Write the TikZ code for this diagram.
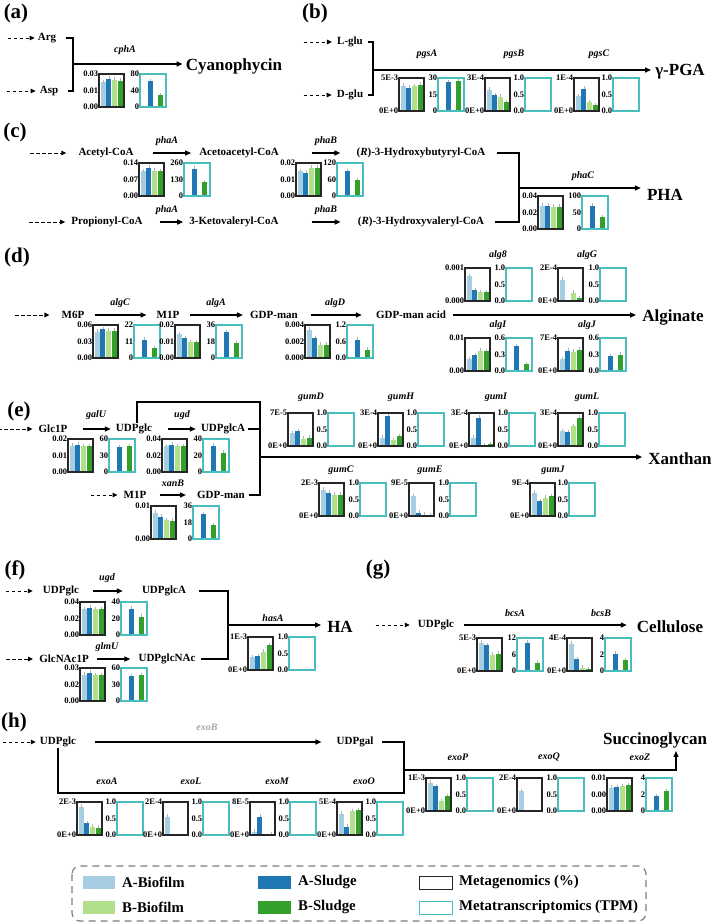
\documentclass[tikz,border=0pt]{standalone}
\usepackage{fontspec}
\setmainfont{Liberation Serif}
\usepackage{tikz}
\usetikzlibrary{arrows.meta}
\definecolor{abio}{RGB}{166,206,227}
\definecolor{aslu}{RGB}{31,120,180}
\definecolor{bbio}{RGB}{178,223,138}
\definecolor{bslu}{RGB}{51,160,44}
\definecolor{mtc}{RGB}{72,190,190}
\newcommand{\mgbox}[9]{%
  \fill[abio] (#1+1.5,#2+33) rectangle ++(5,-33*#6);
  \fill[aslu] (#1+7.3,#2+33) rectangle ++(5,-33*#7);
  \fill[bbio] (#1+13.1,#2+33) rectangle ++(5,-33*#8);
  \fill[bslu] (#1+18.9,#2+33) rectangle ++(5,-33*#9);
  \foreach \o/\h in {4/#6,9.8/#7,15.6/#8,21.4/#9}{\ifdim\h pt>0pt \draw[err] (#1+\o,#2+33-33*\h) -- ++(0,-2.5);\fi}
  \draw[mgframe] (#1,#2) rectangle ++(25,33);
  \node[ax] (m#1x#2t) at (#1,#2) {#3};
  \node[ax] (m#1x#2m) at (#1,#2+16.5) {#4};
  \node[ax] (m#1x#2b) at (#1,#2+33) {#5};
}
\newcommand{\mtbox}[7]{%
  \fill[aslu] (#1+7.5,#2+33) rectangle ++(5,-33*#6);
  \fill[bslu] (#1+17.5,#2+33) rectangle ++(5,-33*#7);
  \foreach \o/\h in {10/#6,20/#7}{\ifdim\h pt>0pt \draw[err] (#1+\o,#2+33-33*\h) -- ++(0,-2.5);\fi}
  \draw[mtframe] (#1,#2) rectangle ++(26,33);
  \node[ax] (c#1x#2t) at (#1,#2) {#3};
  \node[ax] (c#1x#2m) at (#1,#2+16.5) {#4};
  \node[ax] (c#1x#2b) at (#1,#2+33) {#5};
}
\begin{document}
\begin{tikzpicture}[x=1pt,y=-1pt,line join=miter,
    panel/.style={font=\fontsize{21}{21}\selectfont\bfseries},
    met/.style={font=\fontsize{11}{11}\selectfont\bfseries,inner sep=1pt},
    gene/.style={font=\fontsize{10}{10}\selectfont\bfseries\itshape,inner sep=1pt},
    prod/.style={font=\fontsize{17}{17}\selectfont\bfseries,inner sep=1pt},
    ax/.style={font=\fontsize{8.5}{8.5}\selectfont\bfseries,anchor=east,inner sep=0.6pt},
    flow/.style={line width=1.4pt,-{Triangle[length=6pt,width=5pt]}},
    feed/.style={line width=1pt,dash pattern=on 3.5pt off 2.5pt,-{Triangle[length=5pt,width=4.5pt]}},
    link/.style={line width=1.5pt},
    gap/.style 2 args={shorten <=#1pt,shorten >=#2pt},
    err/.style={gray!60,line width=0.5pt},
    mgframe/.style={line width=1.4pt,black!85},
    mtframe/.style={line width=1.4pt,mtc},
    legbox/.style={gray,line width=1.2pt,dash pattern=on 7pt off 5pt,rounded corners=8pt},
    legtxt/.style={font=\fontsize{14.8}{14.8}\selectfont\bfseries,anchor=west,inner sep=0pt}]
\useasboundingbox (0,0) rectangle (714,924);

% (a)
\node[panel] (pa) at (16,13) {(a)};
\node[met] (arg) at (47,38) {Arg};
\node[met] (asp) at (49,91) {Asp};
\coordinate (ja) at (73,64);
\node[prod] (cyano) at (234,66) {Cyanophycin};
\node[gene] (cpha) at (125,50) {cphA};
\draw[feed] ([xshift=-29pt]arg.west) -- ([xshift=-2pt]arg.west);
\draw[feed] ([xshift=-32pt]asp.west) -- ([xshift=-3pt]asp.west);
\draw[link] ([xshift=9pt]arg.east) -| (ja) |- ([xshift=9pt]asp.east);
\draw[flow,gap={0}{2}] (ja) -- (ja -| cyano.west);
\mgbox{99}{74}{0.03}{0.01}{0.00}{.75}{.85}{.82}{.80}
\mtbox{140}{74}{80}{40}{0}{.78}{.36}

% (b)
\node[panel] (pb) at (315,13) {(b)};
\node[met] (lglu) at (350,42) {L-glu};
\node[met] (dglu) at (350,95) {D-glu};
\coordinate (jb) at (373,70);
\node[prod] (pga) at (680,72) {γ-PGA};
\node[gene] (pgsa) at (427,54) {pgsA};
\node[gene] (pgsb) at (514,54) {pgsB};
\node[gene] (pgsc) at (599,54) {pgsC};
\draw[feed] ([xshift=-32pt]lglu.west) -- ([xshift=-4pt]lglu.west);
\draw[feed] ([xshift=-32pt]dglu.west) -- ([xshift=-4pt]dglu.west);
\draw[link] ([xshift=4pt]lglu.east) -| (jb) |- ([xshift=4pt]dglu.east);
\draw[flow,gap={0}{3}] (jb) -- (jb -| pga.west);
\mgbox{399}{78}{5E-3}{}{0E+0}{.77}{.70}{.75}{.80}
\mtbox{438}{78}{30}{15}{0}{.87}{.92}
\mgbox{485}{78}{3E-4}{}{0E+0}{.65}{.47}{.43}{.27}
\mtbox{525}{78}{1.0}{0.5}{0.0}{0}{0}
\mgbox{574}{78}{1E-4}{}{0E+0}{.45}{.67}{.27}{.17}
\mtbox{613}{78}{1.0}{0.5}{0.0}{0}{0}

% (c)
\node[panel] (pc) at (15,132) {(c)};
\node[met] (acoa) at (106,153) {Acetyl-CoA};
\node[met] (aacoa) at (239,153) {Acetoacetyl-CoA};
\node[met] (hbcoa) at (421,153) {(\textit{R})-3-Hydroxybutyryl-CoA};
\node[met] (pcoa) at (107,222) {Propionyl-CoA};
\node[met] (kvcoa) at (234,222) {3-Ketovaleryl-CoA};
\node[met] (hvcoa) at (421,222) {(\textit{R})-3-Hydroxyvaleryl-CoA};
\node[gene] (phaa1) at (167,141) {phaA};
\node[gene] (phab1) at (326,141) {phaB};
\node[gene] (phaa2) at (167,210) {phaA};
\node[gene] (phab2) at (326,210) {phaB};
\node[gene] (phac) at (583,176) {phaC};
\coordinate (jc) at (519,188);
\node[prod] (pha) at (665,195) {PHA};
\draw[feed] ([xshift=-47pt]acoa.west) -- ([xshift=-11pt]acoa.west);
\draw[feed] ([xshift=-41pt]pcoa.west) -- ([xshift=-5pt]pcoa.west);
\draw[flow,gap={18}{7}] (acoa) -- (aacoa);
\draw[flow,gap={32}{15}] (aacoa) -- (hbcoa);
\draw[flow,gap={16}{5}] (pcoa) -- (kvcoa);
\draw[flow,gap={32}{16}] (kvcoa) -- (hvcoa);
\draw[link] ([xshift=10pt]hbcoa.east) -| (jc) |- ([xshift=10pt]hvcoa.east);
\draw[flow,gap={0}{5}] (jc) -- (jc -| pha.west);
\mgbox{139}{163}{0.14}{0.07}{0.00}{.75}{.85}{.77}{.75}
\mtbox{184}{163}{260}{130}{0}{.83}{.42}
\mgbox{296}{163}{0.02}{0.01}{0.00}{.75}{.70}{.85}{.85}
\mtbox{337}{163}{120}{60}{0}{.75}{.47}
\mgbox{538}{196}{0.04}{0.02}{0.00}{.71}{.71}{.67}{.67}
\mtbox{582}{196}{100}{50}{0}{.71}{.35}

% (d)
\node[panel] (pd) at (17,257) {(d)};
\node[met] (m6p) at (73,315) {M6P};
\node[met] (m1pd) at (168,315) {M1P};
\node[met] (gdpd) at (274,315) {GDP-man};
\node[met] (gdpa) at (411,315) {GDP-man acid};
\node[prod] (algi) at (673,317) {Alginate};
\node[gene] (algc) at (120,303) {algC};
\node[gene] (alga) at (216,303) {algA};
\node[gene] (algd) at (335,303) {algD};
\node[gene] (alg8) at (498,255) {alg8};
\node[gene] (algg) at (587,255) {algG};
\node[gene] (algii) at (498,325) {algI};
\node[gene] (algj) at (587,325) {algJ};
\draw[feed] ([xshift=-45pt]m6p.west) -- ([xshift=-11pt]m6p.west);
\draw[flow,gap={9}{9}] (m6p) -- (m1pd);
\draw[flow,gap={9}{6}] (m1pd) -- (gdpd);
\draw[flow,gap={12}{13}] (gdpd) -- (gdpa);
\draw[flow,gap={6}{5}] (gdpa) -- (gdpa -| algi.west);
\mgbox{93}{325}{0.06}{0.03}{0.00}{.80}{.87}{.82}{.82}
\mtbox{134}{325}{22}{11}{0}{.55}{.30}
\mgbox{175}{325}{0.02}{0.01}{0.00}{.72}{.60}{.48}{.48}
\mtbox{216}{325}{36}{18}{0}{.78}{.45}
\mgbox{305}{325}{0.004}{0.002}{0.000}{.85}{.60}{.40}{.40}
\mtbox{347}{325}{1.2}{0.6}{0.0}{.55}{.25}
\mgbox{465}{268}{0.001}{}{0.000}{.75}{.33}{.27}{.27}
\mtbox{506}{268}{1.0}{0.5}{0.0}{0}{0}
\mgbox{558}{268}{2E-4}{}{0E+0}{.65}{0}{.25}{.08}
\mtbox{600}{268}{1.0}{0.5}{0.0}{0}{0}
\mgbox{465}{338}{0.01}{}{0.00}{.35}{.48}{.62}{.60}
\mtbox{506}{338}{0.6}{0.3}{0.0}{.75}{.20}
\mgbox{558}{338}{7E-4}{}{0E+0}{.35}{.62}{.58}{.65}
\mtbox{600}{338}{0.6}{0.3}{0.0}{.45}{.50}

% (e)
\node[panel] (pe) at (19,411) {(e)};
\node[met] (glc1p) at (53,429) {Glc1P};
\node[met] (eudpglc) at (134,429) {UDPglc};
\node[met] (eudpglca) at (223,429) {UDPglcA};
\node[met] (m1pe) at (135,495) {M1P};
\node[met] (gdpe) at (221,495) {GDP-man};
\node[prod] (xan) at (680,459) {Xanthan};
\node[gene] (galu) at (96,415) {galU};
\node[gene] (ugde) at (182,415) {ugd};
\node[gene] (xanb) at (173,483) {xanB};
\coordinate (jetop) at (260,402);
\coordinate (je) at (260,457);
\coordinate (jebot) at (260,495);
\draw[feed] ([xshift=-39pt]glc1p.west) -- ([xshift=-5pt]glc1p.west);
\draw[feed] ([xshift=-32pt]m1pe.west) -- ([xshift=-5pt]m1pe.west);
\draw[flow,gap={14}{4}] (glc1p) -- (eudpglc);
\draw[flow,gap={15}{4}] (eudpglc) -- (eudpglca);
\draw[flow,gap={12}{10}] (m1pe) -- (gdpe);
\draw[link] ([xshift=3pt]eudpglc.north) |- (jetop) -- (jebot) -- ([xshift=3pt]gdpe.east);
\draw[link] ([xshift=2pt]eudpglca.east) -- (eudpglca.east -| je);
\draw[flow,gap={0}{5}] (je) -- (je -| xan.west);
\node[gene] (gumd) at (311,397) {gumD};
\node[gene] (gumh) at (401,397) {gumH};
\node[gene] (gumi) at (496,397) {gumI};
\node[gene] (guml) at (587,397) {gumL};
\node[gene] (gumc) at (341,470) {gumC};
\node[gene] (gume) at (430,470) {gumE};
\node[gene] (gumj) at (553,470) {gumJ};
\mgbox{68}{439}{0.02}{0.01}{0.00}{.80}{.82}{.78}{.78}
\mtbox{109}{439}{60}{30}{0}{.75}{.78}
\mgbox{162}{439}{0.04}{0.02}{0.00}{.78}{.82}{.78}{.78}
\mtbox{203}{439}{40}{20}{0}{.80}{.58}
\mgbox{151}{506}{0.01}{}{0.00}{.80}{.68}{.57}{.55}
\mtbox{193}{506}{36}{18}{0}{.75}{.42}
\mgbox{288}{413}{7E-5}{}{0E+0}{.38}{.45}{.22}{.25}
\mtbox{328}{413}{1.0}{0.5}{0.0}{0}{0}
\mgbox{378}{413}{3E-4}{}{0E+0}{.25}{.90}{.18}{.30}
\mtbox{418}{413}{1.0}{0.5}{0.0}{0}{0}
\mgbox{469}{413}{3E-4}{}{0E+0}{.25}{.85}{.03}{.05}
\mtbox{509}{413}{1.0}{0.5}{0.0}{0}{0}
\mgbox{558}{413}{3E-4}{}{0E+0}{.45}{.42}{.60}{.85}
\mtbox{599}{413}{1.0}{0.5}{0.0}{0}{0}
\mgbox{319}{483}{2E-3}{}{0E+0}{.80}{.70}{.65}{.65}
\mtbox{360}{483}{1.0}{0.5}{0.0}{0}{0}
\mgbox{409}{483}{9E-5}{}{0E+0}{.60}{.10}{.04}{.02}
\mtbox{450}{483}{1.0}{0.5}{0.0}{0}{0}
\mgbox{530}{483}{9E-4}{}{0E+0}{.70}{.45}{.55}{.60}
\mtbox{569}{483}{1.0}{0.5}{0.0}{0}{0}

% (f)
\node[panel] (pf) at (15,570) {(f)};
\node[met] (fudpglc) at (61,591) {UDPglc};
\node[met] (fudpglca) at (164,591) {UDPglcA};
\node[met] (glcnac) at (64,659) {GlcNAc1P};
\node[met] (udpnac) at (167,659) {UDPglcNAc};
\node[gene] (ugdf) at (107,578) {ugd};
\node[gene] (glmu) at (107,647) {glmU};
\node[gene] (hasa) at (273,618) {hasA};
\coordinate (jf) at (228,625);
\node[prod] (ha) at (340,627) {HA};
\draw[feed] ([xshift=-36pt]fudpglc.west) -- ([xshift=-9pt]fudpglc.west);
\draw[feed] ([xshift=-32pt]glcnac.west) -- ([xshift=-5pt]glcnac.west);
\draw[flow,gap={13}{18}] (fudpglc) -- (fudpglca);
\draw[flow,gap={7}{7}] (glcnac) -- (udpnac);
\draw[link] ([xshift=12pt]fudpglca.east) -| (jf) |- ([xshift=4pt]udpnac.east);
\draw[flow,gap={0}{5}] (jf) -- (jf -| ha.west);
\mgbox{80}{602}{0.04}{0.02}{0.00}{.78}{.82}{.78}{.78}
\mtbox{121}{602}{40}{20}{0}{.80}{.55}
\mgbox{80}{668}{0.03}{0.02}{0.00}{.80}{.85}{.78}{.78}
\mtbox{121}{668}{60}{30}{0}{.75}{.78}
\mgbox{248}{637}{1E-3}{}{0E+0}{.38}{.42}{.55}{.75}
\mtbox{289}{637}{1.0}{0.5}{0.0}{0}{0}

% (g)
\node[panel] (pg) at (378,570) {(g)};
\node[met] (gudpglc) at (436,625) {UDPglc};
\node[prod] (cell) at (670,627) {Cellulose};
\node[gene] (bcsa) at (515,613) {bcsA};
\node[gene] (bcsb) at (601,613) {bcsB};
\draw[feed] ([xshift=-41pt]gudpglc.west) -- ([xshift=-7pt]gudpglc.west);
\draw[flow,gap={9}{9}] (gudpglc) -- (gudpglc -| cell.west);
\mgbox{477}{638}{5E-3}{}{0E+0}{.85}{.78}{.50}{.52}
\mtbox{517}{638}{12}{6}{0}{.85}{.25}
\mgbox{567}{638}{4E-4}{}{0E+0}{.82}{.35}{.10}{.05}
\mtbox{605}{638}{4}{2}{0}{.52}{.33}

% (h)
\node[panel] (ph) at (14,722) {(h)};
\node[met] (hudpglc) at (58,742) {UDPglc};
\node[met] (udpgal) at (355,742) {UDPgal};
\node[gene,gray!70] (exob) at (207,727) {exoB};
\node[prod] (succ) at (655,740) {Succinoglycan};
\coordinate (jhb) at (404,793);
\coordinate (jhs) at (404,770);
\draw[feed] ([xshift=-36pt]hudpglc.west) -- ([xshift=-3pt]hudpglc.west);
\draw[flow,gap={18}{14}] (hudpglc) -- (udpgal);
\draw[link] (hudpglc.south) |- (jhb) |- ([xshift=7pt]udpgal.east);
\draw[flow,gap={0}{2}] (jhs) -| ([xshift=21pt]succ.south);
\node[gene] (exop) at (458,757) {exoP};
\node[gene] (exoq) at (549,757) {exoQ};
\node[gene] (exoz) at (640,757) {exoZ};
\node[gene] (exoa) at (107,781) {exoA};
\node[gene] (exol) at (191,781) {exoL};
\node[gene] (exom) at (277,781) {exoM};
\node[gene] (exoo) at (364,781) {exoO};
\mgbox{426}{778}{1E-3}{}{0E+0}{.85}{.75}{.30}{.45}
\mtbox{467}{778}{1.0}{0.5}{0.0}{0}{0}
\mgbox{517}{778}{2E-4}{}{0E+0}{.60}{0}{0}{0}
\mtbox{558}{778}{1.0}{0.5}{0.0}{0}{0}
\mgbox{607}{778}{0.01}{0.00}{0.00}{.70}{.72}{.75}{.78}
\mtbox{646}{778}{4}{2}{0}{.45}{.60}
\mgbox{77}{802}{2E-3}{}{0E+0}{.85}{.35}{.25}{.22}
\mtbox{117}{802}{1.0}{0.5}{0.0}{0}{0}
\mgbox{163}{802}{2E-4}{}{0E+0}{.55}{0}{0}{0}
\mtbox{203}{802}{1.0}{0.5}{0.0}{0}{0}
\mgbox{250}{802}{8E-5}{}{0E+0}{.10}{.55}{0}{.02}
\mtbox{290}{802}{1.0}{0.5}{0.0}{0}{0}
\mgbox{337}{802}{5E-4}{}{0E+0}{.65}{.25}{.72}{.75}
\mtbox{377}{802}{1.0}{0.5}{0.0}{0}{0}

% legend
\draw[legbox] (72,866) rectangle (646,921);
\fill[abio] (83,876) rectangle (115,889);
\fill[aslu] (258,876) rectangle (291,889);
\draw[mgframe,line width=1pt] (419,876) rectangle (452,889);
\fill[bbio] (83,901) rectangle (115,914);
\fill[bslu] (258,901) rectangle (291,914);
\draw[mtframe,line width=1pt] (419,901) rectangle (452,914);
\node[legtxt] (lab) at (122,882) {A-Biofilm};
\node[legtxt] (las) at (298,882) {A-Sludge};
\node[legtxt] (lmg) at (459,882) {Metagenomics (\%)};
\node[legtxt] (lbb) at (122,907) {B-Biofilm};
\node[legtxt] (lbs) at (298,907) {B-Sludge};
\node[legtxt] (lmt) at (459,907) {Metatranscriptomics (TPM)};
\end{tikzpicture}
\end{document}
